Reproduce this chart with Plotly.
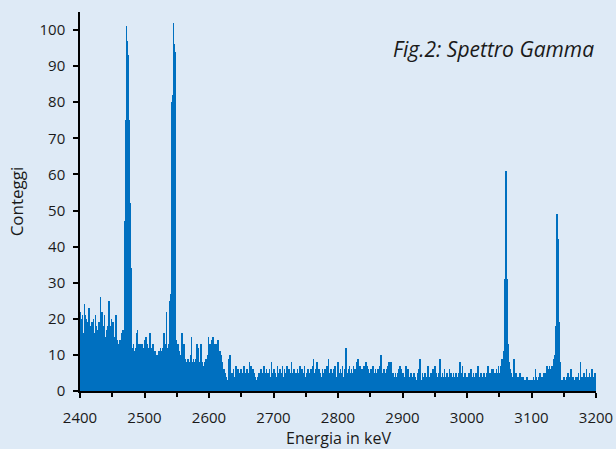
import numpy as np
import plotly.graph_objects as go

# Gamma spectrum, 1 keV channels, counts per channel
start_kev = 2400
counts_2400 = [18, 22, 20, 19, 21, 9, 16, 24, 21, 18, 20, 17, 19, 16, 23, 22, 18, 17, 15, 19,
               18, 20, 16, 15, 21, 18, 17, 15, 16, 19, 15, 17, 26, 20, 22, 19, 18, 16, 21, 15,
               14, 17, 15, 18, 24, 25, 19, 18, 16, 20, 17, 19, 16, 15, 14, 16, 21, 13, 14, 12,
               13, 12, 14, 12, 13, 16, 13, 17, 15, 25, 47, 75, 101, 97, 93, 88, 75, 56, 52, 34,
               20, 12, 10, 13, 11, 9, 12, 11, 16, 17, 13, 12, 11, 13, 12, 10, 13, 12, 9, 12]
counts_2500 = [11, 14, 15, 12, 13, 11, 10, 12, 13, 16, 12, 11, 10, 13, 12, 9, 11, 8, 1, 10,
               3, 9, 11, 8, 10, 12, 9, 11, 12, 10, 16, 11, 13, 10, 22, 12, 10, 11, 13, 12,
               25, 27, 58, 80, 82, 102, 96, 94, 72, 14, 12, 10, 13, 9, 11, 8, 7, 10, 16, 12,
               11, 13, 12, 9, 7, 8, 6, 9, 7, 8, 6, 7, 10, 15, 8, 7, 9, 8, 7, 6,
               9, 13, 8, 7, 12, 8, 6, 9, 13, 7, 8, 6, 7, 8, 6, 9, 7, 8, 10, 15]
counts_2600 = [11, 12, 13, 11, 14, 12, 15, 11, 13, 12, 11, 13, 12, 10, 14, 11, 9, 11, 8, 10,
               7, 8, 5, 6, 4, 5, 3, 4, 2, 3, 4, 9, 3, 10, 4, 3, 5, 2, 6, 4,
               3, 5, 7, 3, 4, 6, 2, 5, 4, 3, 6, 4, 5, 3, 7, 4, 2, 5, 4, 6,
               3, 5, 4, 8, 5, 7, 4, 3, 6, 4, 5, 2, 4, 3, 1, 4, 0, 3, 5, 2,
               4, 6, 3, 5, 4, 7, 3, 5, 4, 6, 3, 5, 4, 2, 6, 4, 3, 8, 4, 5]
counts_2700 = [3, 6, 4, 5, 2, 4, 7, 3, 5, 4, 6, 3, 5, 4, 7, 3, 4, 6, 5, 3,
               4, 7, 5, 3, 6, 4, 5, 3, 8, 4, 5, 3, 6, 4, 2, 5, 4, 6, 3, 5,
               4, 7, 3, 5, 6, 4, 3, 5, 7, 4, 3, 5, 4, 6, 2, 5, 4, 3, 6, 5,
               4, 7, 9, 5, 3, 6, 4, 8, 5, 3, 4, 6, 3, 5, 4, 2, 6, 4, 5, 3,
               6, 4, 5, 7, 3, 9, 4, 5, 3, 6, 4, 5, 3, 6, 4, 7, 5, 3, 4, 6]
counts_2800 = [8, 4, 5, 3, 6, 4, 5, 7, 3, 4, 5, 6, 12, 4, 3, 5, 6, 4, 7, 5,
               3, 6, 4, 5, 7, 4, 6, 5, 3, 8, 6, 9, 5, 4, 7, 5, 3, 6, 4, 5,
               7, 6, 5, 8, 6, 5, 7, 6, 4, 5, 3, 6, 4, 5, 7, 3, 5, 4, 6, 3,
               5, 4, 6, 3, 5, 7, 4, 10, 5, 3, 4, 6, 3, 5, 2, 4, 6, 3, 7, 8,
               7, 5, 8, 4, 3, 5, 2, 4, 3, 5, 4, 2, 3, 5, 4, 6, 7, 3, 6, 4]
counts_2900 = [3, 5, 2, 4, 3, 7, 2, 4, 3, 6, 2, 4, 3, 5, 2, 3, 4, 2, 5, 3,
               4, 2, 3, 5, 4, 6, 3, 9, 4, 2, 3, 5, 2, 4, 3, 5, 2, 4, 3, 6,
               7, 3, 4, 2, 5, 3, 4, 6, 2, 4, 7, 3, 5, 2, 4, 3, 5, 4, 9, 3,
               4, 2, 5, 3, 4, 6, 2, 4, 3, 5, 2, 4, 3, 6, 3, 5, 2, 4, 3, 5,
               4, 2, 3, 5, 2, 4, 3, 5, 2, 8, 4, 3, 5, 7, 3, 4, 2, 5, 3, 4]
counts_3000 = [2, 4, 3, 5, 2, 4, 6, 3, 4, 2, 5, 3, 4, 2, 5, 3, 4, 7, 3, 2,
               4, 3, 5, 2, 4, 3, 5, 2, 4, 3, 5, 4, 3, 7, 4, 2, 5, 3, 4, 6,
               3, 6, 4, 5, 3, 4, 6, 3, 5, 7, 4, 5, 7, 6, 9, 8, 9, 11, 20, 31,
               61, 44, 31, 24, 13, 8, 5, 6, 3, 5, 4, 2, 3, 9, 4, 3, 5, 2, 4, 3,
               4, 2, 5, 3, 4, 2, 3, 4, 2, 3, 1, 3, 2, 4, 1, 3, 2, 0, 3, 1]
counts_3100 = [2, 3, 1, 4, 2, 3, 6, 2, 4, 3, 2, 4, 3, 5, 2, 3, 4, 2, 3, 5,
               4, 3, 5, 6, 7, 4, 5, 6, 7, 5, 6, 5, 7, 6, 6, 9, 10, 13, 18, 41,
               49, 42, 33, 19, 8, 4, 3, 1, 3, 2, 4, 2, 3, 1, 4, 2, 3, 5, 2, 3,
               4, 6, 2, 3, 4, 1, 3, 2, 4, 3, 2, 4, 3, 5, 2, 3, 8, 3, 4, 2,
               3, 5, 2, 4, 3, 6, 3, 2, 4, 3, 5, 2, 4, 3, 6, 2, 4, 3, 5, 3]

counts = (counts_2400 + counts_2500 + counts_2600 + counts_2700 +
          counts_2800 + counts_2900 + counts_3000 + counts_3100)
energies = start_kev + np.arange(len(counts))

x_ticks = [2400, 2500, 2600, 2700, 2800, 2900, 3000, 3100, 3200]
y_ticks = [0, 10, 20, 30, 40, 50, 60, 70, 80, 90, 100]

title_text = "Fig.2: Spettro Gamma"
x_title = "Energia in keV"
y_title = "Conteggi"

BG = "#DEEAF6"
BAR = "#0070C0"
FONT = "Open Sans"
TXT = "#1a1a1a"

fig = go.Figure()
fig.add_trace(go.Bar(x=energies, y=counts, marker=dict(color=BAR, line=dict(width=0)),
                     hoverinfo="x+y"))

fig.update_layout(
    width=616, height=449,
    margin=dict(l=80, r=20, t=12, b=58, autoexpand=False),
    paper_bgcolor=BG, plot_bgcolor=BG,
    bargap=0,
    showlegend=False,
    font=dict(family=FONT, color=TXT, size=14),
    xaxis=dict(range=[2400, 3200], tickvals=x_ticks, ticks="outside", ticklen=5,
               tickwidth=1.5, tickcolor="black", showline=True, linecolor="black",
               linewidth=1.5, showgrid=False, zeroline=False, automargin=False,
               ticklabelstandoff=7,
               minor=dict(dtick=50, tick0=2400, ticks="outside", ticklen=4,
                          tickwidth=1.5, tickcolor="black", showgrid=False),
               tickfont=dict(size=15, family=FONT, color=TXT)),
    yaxis=dict(range=[0, 105], tickvals=y_ticks, ticks="outside", ticklen=5,
               tickwidth=1.5, tickcolor="black", showline=True, linecolor="black",
               linewidth=1.5, showgrid=False, zeroline=False, automargin=False,
               ticklabelstandoff=5,
               tickfont=dict(size=15, family=FONT, color=TXT),
               title=dict(text=y_title, font=dict(size=17, family=FONT, color=TXT), standoff=12)),
    annotations=[
        dict(text="<i>" + title_text + "</i>", xref="paper", yref="paper",
             x=1.0, y=0.902, xanchor="right", yanchor="middle", showarrow=False,
             font=dict(size=21, family=FONT, color=TXT)),
        dict(text=x_title, xref="paper", yref="paper",
             x=0.5, y=-0.125, xanchor="center", yanchor="middle", showarrow=False,
             borderpad=0, font=dict(size=16, family=FONT, color=TXT)),
    ],
)

fig.write_html("out.html", config={"displayModeBar": False},
               post_script="document.body.style.margin='0';")
